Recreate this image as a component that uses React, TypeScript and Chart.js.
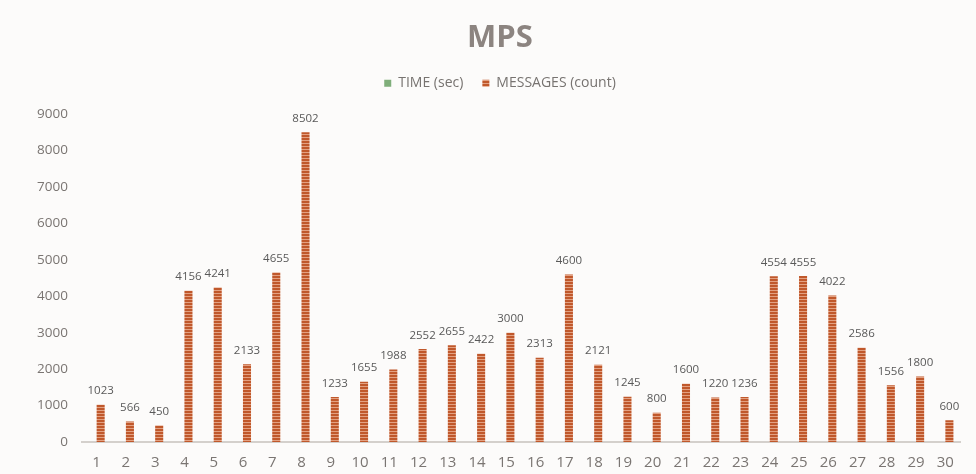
import React, { useEffect, useRef } from "react";
import { Chart, registerables } from "chart.js";

Chart.register(...registerables);

const categories = Array.from({ length: 30 }, (_, i) => String(i + 1));
const timeValues: (number | null)[] = categories.map(() => null);
const messageValues = [
  1023, 566, 450, 4156, 4241, 2133, 4655, 8502, 1233, 1655,
  1988, 2552, 2655, 2422, 3000, 2313, 4600, 2121, 1245, 800,
  1600, 1220, 1236, 4554, 4555, 4022, 2586, 1556, 1800, 600,
];
const yTicks = { min: 0, max: 9000, step: 1000 };

const FONT = "'Open Sans', 'Noto Sans', sans-serif";

function makePattern(): CanvasPattern | string {
  const c = document.createElement("canvas");
  c.width = 4;
  c.height = 3;
  const g = c.getContext("2d");
  if (!g) return "#c0582b";
  g.fillStyle = "#c0582b";
  g.fillRect(0, 0, 4, 3);
  g.fillStyle = "#e3a182";
  g.fillRect(0, 2, 4, 1);
  return g.createPattern(c, "repeat") || "#c0582b";
}

const bgPlugin = {
  id: "bg",
  beforeDraw(chart: any) {
    const { ctx, width, height } = chart;
    ctx.save();
    ctx.fillStyle = "#fcfbfa";
    ctx.fillRect(0, 0, width, height);
    ctx.restore();
  },
};

const HEADER_SHIFT = 20;

const legendSpace = {
  id: "legendSpace",
  beforeLayout(chart: any) {
    const lg = chart.legend;
    if (lg && !lg._patched) {
      const orig = lg.fit.bind(lg);
      lg.fit = function () {
        orig();
        this.height += 14;
      };
      lg._patched = true;
    }
  },
  afterLayout(chart: any) {
    const boxes = [chart.titleBlock, chart.legend];
    boxes.forEach((b: any) => {
      if (b) {
        b.left += HEADER_SHIFT;
        b.right += HEADER_SHIFT;
      }
    });
  },
};

const labelPlugin = {
  id: "valueLabels",
  afterDatasetsDraw(chart: any) {
    const { ctx } = chart;
    const meta = chart.getDatasetMeta(1);
    ctx.save();
    ctx.font = `11.5px ${FONT}`;
    ctx.fillStyle = "#595959";
    ctx.textAlign = "center";
    ctx.textBaseline = "bottom";
    meta.data.forEach((bar: any, i: number) => {
      ctx.fillText(String(messageValues[i]), bar.x, bar.y - 8);
    });
    ctx.restore();
  },
};

export default function App() {
  const ref = useRef<HTMLCanvasElement>(null);
  useEffect(() => {
    if (!ref.current) return;
    const chart = new Chart(ref.current, {
      type: "bar",
      data: {
        labels: categories,
        datasets: [
          {
            label: "TIME (sec)",
            data: timeValues,
            backgroundColor: "#7fae7a",
            barPercentage: 1,
            categoryPercentage: 0.55,
          },
          {
            label: "MESSAGES (count)",
            data: messageValues,
            backgroundColor: makePattern() as any,
            barPercentage: 1,
            categoryPercentage: 0.55,
          },
        ],
      },
      options: {
        animation: false,
        responsive: false,
        layout: { padding: { left: 0, right: 16, top: 0, bottom: 0 } },
        plugins: {
          title: {
            display: true,
            text: "MPS",
            color: "#8c8480",
            font: { family: FONT, size: 31, weight: "bold" },
            padding: { top: 20, bottom: 0 },
          },
          legend: {
            display: true,
            labels: {
              color: "#777370",
              font: { family: FONT, size: 14 },
              boxWidth: 7,
              boxHeight: 7,
              padding: 19,
            },
          },
          tooltip: { enabled: false },
        },
        scales: {
          x: {
            grid: { display: false },
            border: { display: true, color: "#d4d0cc", width: 2 },
            ticks: {
              color: "#7a7572",
              font: { family: FONT, size: 15 },
              padding: 4,
              maxRotation: 0,
            },
            afterFit(scale: any) {
              scale.height = 32;
            },
          },
          y: {
            min: yTicks.min,
            max: yTicks.max,
            grid: { display: false },
            border: { display: false },
            ticks: {
              stepSize: yTicks.step,
              color: "#7a7572",
              font: { family: FONT, size: 13.5 },
              padding: 6,
              callback: (v: any) => String(v),
            },
            afterFit(scale: any) {
              scale.width = 82;
            },
          },
        },
      },
      plugins: [bgPlugin, legendSpace, labelPlugin],
    });
    return () => chart.destroy();
  }, []);
  return (
    <div style={{ position: "fixed", left: 0, top: 0, width: 976, height: 474, background: "#fcfbfa" }}>
      <canvas ref={ref} width={976} height={474} />
    </div>
  );
}
